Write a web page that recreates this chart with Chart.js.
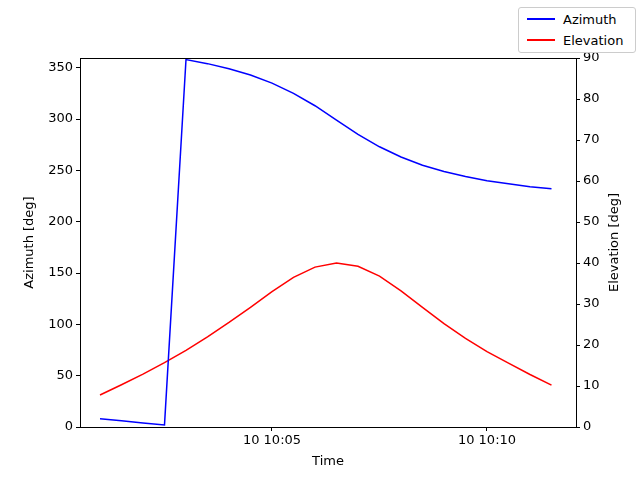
<!DOCTYPE html>
<html><head><meta charset="utf-8">
<script src="https://cdn.jsdelivr.net/npm/chart.js@4"></script>
<style>
body{margin:0;background:#fff;font-family:"DejaVu Sans";}
#wrap{position:relative;width:640px;height:480px;}
#leg{position:absolute;left:518px;top:7px;width:116px;height:44px;border:1px solid #ccc;border-radius:3px;background:#fff;font:13px "DejaVu Sans";}
.it{position:absolute;left:8px;height:16px;display:flex;align-items:center;}
.ln{width:28px;height:2px;margin-right:8px;}
</style></head><body>
<div id="wrap"><canvas id="c" width="640" height="480"></canvas>
<div id="leg"><div class="it" style="top:3px"><span class="ln" style="background:blue"></span>Azimuth</div>
<div class="it" style="top:24px"><span class="ln" style="background:red"></span>Elevation</div></div></div>
<script>
// minutes after 10:00, every 30 s
const times=[1,1.5,2,2.5,3,3.5,4,4.5,5,5.5,6,6.5,7,7.5,8,8.5,9,9.5,10,10.5,11,11.5];
const azimuth=[8,6,4,2,358,354,349,343,335,325,313,299,285,273,263,255,249,244,240,237,234,232];
const elevation=[7.8,10.3,12.9,15.7,18.7,22,25.5,29.2,33,36.5,39,40,39.2,36.8,33.2,29.2,25.2,21.6,18.4,15.6,12.8,10.2];
const xTicks=[5,10];
const xTickLabels={5:"10 10:05",10:"10 10:10"};
const F={family:"DejaVu Sans",size:13};
const grid={drawOnChartArea:false,tickLength:4,color:'#000',tickColor:'#000'};
const deco={id:'deco',afterDraw(c){const a=c.chartArea,x=c.ctx;x.save();
 x.strokeStyle='#000';x.lineWidth=1;x.strokeRect(a.left+0.5,a.top+0.5,a.right-a.left,a.bottom-a.top);
 x.fillStyle='#000';x.font='13px "DejaVu Sans"';x.textAlign='center';x.textBaseline='middle';
 x.fillText('Time',(a.left+a.right)/2,462);
 x.translate(30,(a.top+a.bottom)/2);x.rotate(-Math.PI/2);x.fillText('Azimuth [deg]',0,0);x.restore();
 x.save();x.fillStyle='#000';x.font='13px "DejaVu Sans"';x.textAlign='center';x.textBaseline='middle';
 x.translate(615,(a.top+a.bottom)/2);x.rotate(-Math.PI/2);x.fillText('Elevation [deg]',0,0);x.restore();}};
new Chart(document.getElementById('c'),{type:'line',
data:{datasets:[
{label:'Azimuth',data:times.map((t,i)=>({x:t,y:azimuth[i]})),borderColor:'blue',borderWidth:1.5,pointRadius:0,yAxisID:'y',tension:0},
{label:'Elevation',data:times.map((t,i)=>({x:t,y:elevation[i]})),borderColor:'red',borderWidth:1.5,pointRadius:0,yAxisID:'y2',tension:0}]},
plugins:[deco],
options:{responsive:false,animation:false,layout:{padding:{top:58,left:0,right:0,bottom:0}},
plugins:{legend:{display:false},tooltip:{enabled:false}},
scales:{
x:{type:'linear',min:0.535,max:12.07,grid:grid,border:{color:'#000'},
 afterBuildTicks:s=>{s.ticks=xTicks.map(v=>({value:v}));},
 afterFit:s=>{s.height=53;},
 ticks:{color:'#000',font:F,padding:2,maxRotation:0,callback:v=>xTickLabels[v]}},
y:{position:'left',min:0,max:359.5,grid:grid,border:{color:'#000'},
 afterBuildTicks:s=>{s.ticks=[0,50,100,150,200,250,300,350].map(v=>({value:v}));},
 afterFit:s=>{s.width=80;},
 ticks:{color:'#000',font:F,padding:3}},
y2:{position:'right',min:0,max:90,grid:grid,border:{color:'#000'},
 afterFit:s=>{s.width=64;},
 ticks:{color:'#000',font:F,stepSize:10,padding:3}}
}}});
</script></body></html>
